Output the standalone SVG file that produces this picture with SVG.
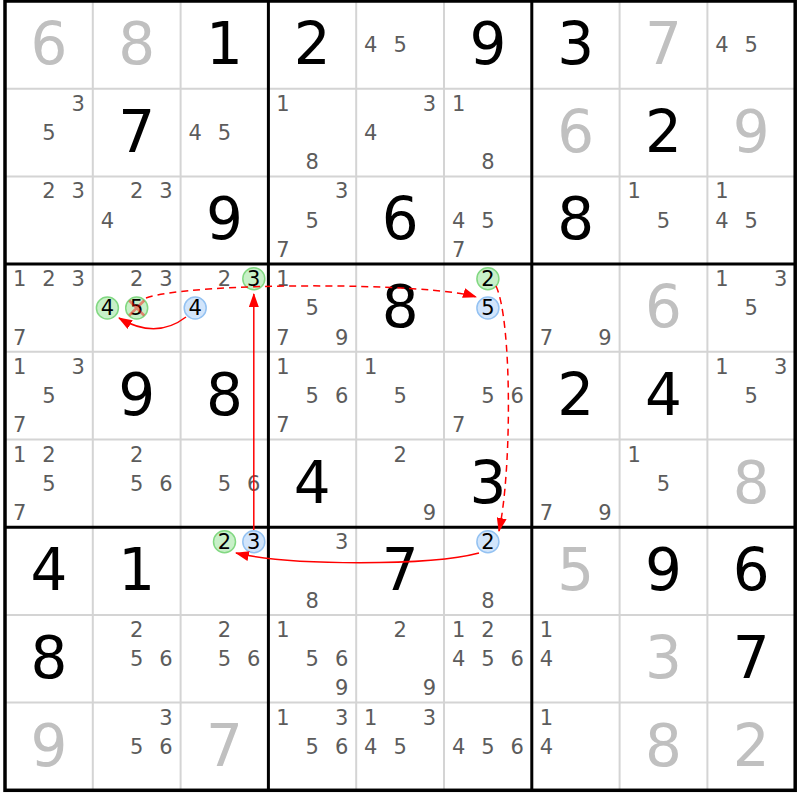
<svg xmlns="http://www.w3.org/2000/svg" width="800" height="800" viewBox="0 0 800 800">
<style>
text{font-family:"DejaVu Sans","Verdana",sans-serif;text-anchor:middle}
.b{font-size:58px;fill:#000}
.g{font-size:58px;fill:#c0c0c0}
.c{font-size:21px;fill:#5c5c5c}
.h{font-size:21px;fill:#000}
.cg{fill:#c8f0c8;stroke:#82d882;stroke-width:1.5}
.cb{fill:#d2e5fb;stroke:#94c2f2;stroke-width:1.5}
.thin{stroke:#d4d4d4;stroke-width:2}
.thick{stroke:#000;stroke-width:3}
.ar{fill:none;stroke:#f00;stroke-width:1.5}
.da{stroke-dasharray:7 5}
</style>
<defs>
<marker id="ah" markerWidth="14" markerHeight="10" refX="13" refY="5" orient="auto" markerUnits="userSpaceOnUse"><path d="M0,0 L14,5 L0,10 z" fill="#f00"/></marker>
</defs>
<rect width="800" height="800" fill="#fff"/>
<g id="grid">
<path class="thin" d="M92.8,1V790.3M180.6,1V790.3M356.2,1V790.3M444,1V790.3M619.6,1V790.3M707.4,1V790.3M5,88.7H795.2M5,176.4H795.2M5,351.8H795.2M5,439.5H795.2M5,614.9H795.2M5,702.6H795.2"/>
<path class="thick" d="M268.4,1V790.3M531.8,1V790.3M5,264.1H795.2M5,527.2H795.2"/>
<rect x="5" y="1" width="790.2" height="789.3" fill="none" stroke="#000" stroke-width="3.5"/>
</g>
<g id="cells">
<!-- row 0 -->
<g id="r0c0" transform="translate(5,1)"><text class="g" x="43.9" y="63">6</text></g>
<g id="r0c1" transform="translate(92.8,1)"><text class="g" x="43.9" y="63">8</text></g>
<g id="r0c2" transform="translate(180.6,1)"><text class="b" x="43.9" y="63">1</text></g>
<g id="r0c3" transform="translate(268.4,1)"><text class="b" x="43.9" y="63">2</text></g>
<g id="r0c4" transform="translate(356.2,1)"><text class="c" x="14.6" y="51.3">4</text><text class="c" x="43.9" y="51.3">5</text></g>
<g id="r0c5" transform="translate(444,1)"><text class="b" x="43.9" y="63">9</text></g>
<g id="r0c6" transform="translate(531.8,1)"><text class="b" x="43.9" y="63">3</text></g>
<g id="r0c7" transform="translate(619.6,1)"><text class="g" x="43.9" y="63">7</text></g>
<g id="r0c8" transform="translate(707.4,1)"><text class="c" x="14.6" y="51.3">4</text><text class="c" x="43.9" y="51.3">5</text></g>
<!-- row 1 -->
<g id="r1c0" transform="translate(5,88.7)"><text class="c" x="73.2" y="22">3</text><text class="c" x="43.9" y="51.3">5</text></g>
<g id="r1c1" transform="translate(92.8,88.7)"><text class="b" x="43.9" y="63">7</text></g>
<g id="r1c2" transform="translate(180.6,88.7)"><text class="c" x="14.6" y="51.3">4</text><text class="c" x="43.9" y="51.3">5</text></g>
<g id="r1c3" transform="translate(268.4,88.7)"><text class="c" x="14.6" y="22">1</text><text class="c" x="43.9" y="80.6">8</text></g>
<g id="r1c4" transform="translate(356.2,88.7)"><text class="c" x="73.2" y="22">3</text><text class="c" x="14.6" y="51.3">4</text></g>
<g id="r1c5" transform="translate(444,88.7)"><text class="c" x="14.6" y="22">1</text><text class="c" x="43.9" y="80.6">8</text></g>
<g id="r1c6" transform="translate(531.8,88.7)"><text class="g" x="43.9" y="63">6</text></g>
<g id="r1c7" transform="translate(619.6,88.7)"><text class="b" x="43.9" y="63">2</text></g>
<g id="r1c8" transform="translate(707.4,88.7)"><text class="g" x="43.9" y="63">9</text></g>
<!-- row 2 -->
<g id="r2c0" transform="translate(5,176.4)"><text class="c" x="43.9" y="22">2</text><text class="c" x="73.2" y="22">3</text></g>
<g id="r2c1" transform="translate(92.8,176.4)"><text class="c" x="43.9" y="22">2</text><text class="c" x="73.2" y="22">3</text><text class="c" x="14.6" y="51.3">4</text></g>
<g id="r2c2" transform="translate(180.6,176.4)"><text class="b" x="43.9" y="63">9</text></g>
<g id="r2c3" transform="translate(268.4,176.4)"><text class="c" x="73.2" y="22">3</text><text class="c" x="43.9" y="51.3">5</text><text class="c" x="14.6" y="80.6">7</text></g>
<g id="r2c4" transform="translate(356.2,176.4)"><text class="b" x="43.9" y="63">6</text></g>
<g id="r2c5" transform="translate(444,176.4)"><text class="c" x="14.6" y="51.3">4</text><text class="c" x="43.9" y="51.3">5</text><text class="c" x="14.6" y="80.6">7</text></g>
<g id="r2c6" transform="translate(531.8,176.4)"><text class="b" x="43.9" y="63">8</text></g>
<g id="r2c7" transform="translate(619.6,176.4)"><text class="c" x="14.6" y="22">1</text><text class="c" x="43.9" y="51.3">5</text></g>
<g id="r2c8" transform="translate(707.4,176.4)"><text class="c" x="14.6" y="22">1</text><text class="c" x="14.6" y="51.3">4</text><text class="c" x="43.9" y="51.3">5</text></g>
<!-- row 3 -->
<g id="r3c0" transform="translate(5,264.1)"><text class="c" x="14.6" y="22">1</text><text class="c" x="43.9" y="22">2</text><text class="c" x="73.2" y="22">3</text><text class="c" x="14.6" y="80.6">7</text></g>
<g id="r3c1" transform="translate(92.8,264.1)"><text class="c" x="43.9" y="22">2</text><text class="c" x="73.2" y="22">3</text><circle class="cg" cx="14.6" cy="43.9" r="11"/><text class="h" x="14.6" y="51.3">4</text><circle class="cg" cx="43.9" cy="43.9" r="11"/><text class="h" x="43.9" y="51.3">5</text><path d="M36.4,36.4L51.4,51.4M51.4,36.4L36.4,51.4" stroke="#ff0000" stroke-opacity="0.45" stroke-width="2.5"/></g>
<g id="r3c2" transform="translate(180.6,264.1)"><text class="c" x="43.9" y="22">2</text><circle class="cg" cx="73.2" cy="14.6" r="11"/><text class="h" x="73.2" y="22">3</text><circle class="cb" cx="14.6" cy="43.9" r="11"/><text class="h" x="14.6" y="51.3">4</text></g>
<g id="r3c3" transform="translate(268.4,264.1)"><text class="c" x="14.6" y="22">1</text><text class="c" x="43.9" y="51.3">5</text><text class="c" x="14.6" y="80.6">7</text><text class="c" x="73.2" y="80.6">9</text></g>
<g id="r3c4" transform="translate(356.2,264.1)"><text class="b" x="43.9" y="63">8</text></g>
<g id="r3c5" transform="translate(444,264.1)"><circle class="cg" cx="43.9" cy="14.6" r="11"/><text class="h" x="43.9" y="22">2</text><circle class="cb" cx="43.9" cy="43.9" r="11"/><text class="h" x="43.9" y="51.3">5</text></g>
<g id="r3c6" transform="translate(531.8,264.1)"><text class="c" x="14.6" y="80.6">7</text><text class="c" x="73.2" y="80.6">9</text></g>
<g id="r3c7" transform="translate(619.6,264.1)"><text class="g" x="43.9" y="63">6</text></g>
<g id="r3c8" transform="translate(707.4,264.1)"><text class="c" x="14.6" y="22">1</text><text class="c" x="73.2" y="22">3</text><text class="c" x="43.9" y="51.3">5</text></g>
<!-- row 4 -->
<g id="r4c0" transform="translate(5,351.8)"><text class="c" x="14.6" y="22">1</text><text class="c" x="73.2" y="22">3</text><text class="c" x="43.9" y="51.3">5</text><text class="c" x="14.6" y="80.6">7</text></g>
<g id="r4c1" transform="translate(92.8,351.8)"><text class="b" x="43.9" y="63">9</text></g>
<g id="r4c2" transform="translate(180.6,351.8)"><text class="b" x="43.9" y="63">8</text></g>
<g id="r4c3" transform="translate(268.4,351.8)"><text class="c" x="14.6" y="22">1</text><text class="c" x="43.9" y="51.3">5</text><text class="c" x="73.2" y="51.3">6</text><text class="c" x="14.6" y="80.6">7</text></g>
<g id="r4c4" transform="translate(356.2,351.8)"><text class="c" x="14.6" y="22">1</text><text class="c" x="43.9" y="51.3">5</text></g>
<g id="r4c5" transform="translate(444,351.8)"><text class="c" x="43.9" y="51.3">5</text><text class="c" x="73.2" y="51.3">6</text><text class="c" x="14.6" y="80.6">7</text></g>
<g id="r4c6" transform="translate(531.8,351.8)"><text class="b" x="43.9" y="63">2</text></g>
<g id="r4c7" transform="translate(619.6,351.8)"><text class="b" x="43.9" y="63">4</text></g>
<g id="r4c8" transform="translate(707.4,351.8)"><text class="c" x="14.6" y="22">1</text><text class="c" x="73.2" y="22">3</text><text class="c" x="43.9" y="51.3">5</text></g>
<!-- row 5 -->
<g id="r5c0" transform="translate(5,439.5)"><text class="c" x="14.6" y="22">1</text><text class="c" x="43.9" y="22">2</text><text class="c" x="43.9" y="51.3">5</text><text class="c" x="14.6" y="80.6">7</text></g>
<g id="r5c1" transform="translate(92.8,439.5)"><text class="c" x="43.9" y="22">2</text><text class="c" x="43.9" y="51.3">5</text><text class="c" x="73.2" y="51.3">6</text></g>
<g id="r5c2" transform="translate(180.6,439.5)"><text class="c" x="43.9" y="51.3">5</text><text class="c" x="73.2" y="51.3">6</text></g>
<g id="r5c3" transform="translate(268.4,439.5)"><text class="b" x="43.9" y="63">4</text></g>
<g id="r5c4" transform="translate(356.2,439.5)"><text class="c" x="43.9" y="22">2</text><text class="c" x="73.2" y="80.6">9</text></g>
<g id="r5c5" transform="translate(444,439.5)"><text class="b" x="43.9" y="63">3</text></g>
<g id="r5c6" transform="translate(531.8,439.5)"><text class="c" x="14.6" y="80.6">7</text><text class="c" x="73.2" y="80.6">9</text></g>
<g id="r5c7" transform="translate(619.6,439.5)"><text class="c" x="14.6" y="22">1</text><text class="c" x="43.9" y="51.3">5</text></g>
<g id="r5c8" transform="translate(707.4,439.5)"><text class="g" x="43.9" y="63">8</text></g>
<!-- row 6 -->
<g id="r6c0" transform="translate(5,527.2)"><text class="b" x="43.9" y="63">4</text></g>
<g id="r6c1" transform="translate(92.8,527.2)"><text class="b" x="43.9" y="63">1</text></g>
<g id="r6c2" transform="translate(180.6,527.2)"><circle class="cg" cx="43.9" cy="14.6" r="11"/><text class="h" x="43.9" y="22">2</text><circle class="cb" cx="73.2" cy="14.6" r="11"/><text class="h" x="73.2" y="22">3</text></g>
<g id="r6c3" transform="translate(268.4,527.2)"><text class="c" x="73.2" y="22">3</text><text class="c" x="43.9" y="80.6">8</text></g>
<g id="r6c4" transform="translate(356.2,527.2)"><text class="b" x="43.9" y="63">7</text></g>
<g id="r6c5" transform="translate(444,527.2)"><circle class="cb" cx="43.9" cy="14.6" r="11"/><text class="h" x="43.9" y="22">2</text><text class="c" x="43.9" y="80.6">8</text></g>
<g id="r6c6" transform="translate(531.8,527.2)"><text class="g" x="43.9" y="63">5</text></g>
<g id="r6c7" transform="translate(619.6,527.2)"><text class="b" x="43.9" y="63">9</text></g>
<g id="r6c8" transform="translate(707.4,527.2)"><text class="b" x="43.9" y="63">6</text></g>
<!-- row 7 -->
<g id="r7c0" transform="translate(5,614.9)"><text class="b" x="43.9" y="63">8</text></g>
<g id="r7c1" transform="translate(92.8,614.9)"><text class="c" x="43.9" y="22">2</text><text class="c" x="43.9" y="51.3">5</text><text class="c" x="73.2" y="51.3">6</text></g>
<g id="r7c2" transform="translate(180.6,614.9)"><text class="c" x="43.9" y="22">2</text><text class="c" x="43.9" y="51.3">5</text><text class="c" x="73.2" y="51.3">6</text></g>
<g id="r7c3" transform="translate(268.4,614.9)"><text class="c" x="14.6" y="22">1</text><text class="c" x="43.9" y="51.3">5</text><text class="c" x="73.2" y="51.3">6</text><text class="c" x="73.2" y="80.6">9</text></g>
<g id="r7c4" transform="translate(356.2,614.9)"><text class="c" x="43.9" y="22">2</text><text class="c" x="73.2" y="80.6">9</text></g>
<g id="r7c5" transform="translate(444,614.9)"><text class="c" x="14.6" y="22">1</text><text class="c" x="43.9" y="22">2</text><text class="c" x="14.6" y="51.3">4</text><text class="c" x="43.9" y="51.3">5</text><text class="c" x="73.2" y="51.3">6</text></g>
<g id="r7c6" transform="translate(531.8,614.9)"><text class="c" x="14.6" y="22">1</text><text class="c" x="14.6" y="51.3">4</text></g>
<g id="r7c7" transform="translate(619.6,614.9)"><text class="g" x="43.9" y="63">3</text></g>
<g id="r7c8" transform="translate(707.4,614.9)"><text class="b" x="43.9" y="63">7</text></g>
<!-- row 8 -->
<g id="r8c0" transform="translate(5,702.6)"><text class="g" x="43.9" y="63">9</text></g>
<g id="r8c1" transform="translate(92.8,702.6)"><text class="c" x="73.2" y="22">3</text><text class="c" x="43.9" y="51.3">5</text><text class="c" x="73.2" y="51.3">6</text></g>
<g id="r8c2" transform="translate(180.6,702.6)"><text class="g" x="43.9" y="63">7</text></g>
<g id="r8c3" transform="translate(268.4,702.6)"><text class="c" x="14.6" y="22">1</text><text class="c" x="73.2" y="22">3</text><text class="c" x="43.9" y="51.3">5</text><text class="c" x="73.2" y="51.3">6</text></g>
<g id="r8c4" transform="translate(356.2,702.6)"><text class="c" x="14.6" y="22">1</text><text class="c" x="73.2" y="22">3</text><text class="c" x="14.6" y="51.3">4</text><text class="c" x="43.9" y="51.3">5</text></g>
<g id="r8c5" transform="translate(444,702.6)"><text class="c" x="14.6" y="51.3">4</text><text class="c" x="43.9" y="51.3">5</text><text class="c" x="73.2" y="51.3">6</text></g>
<g id="r8c6" transform="translate(531.8,702.6)"><text class="c" x="14.6" y="22">1</text><text class="c" x="14.6" y="51.3">4</text></g>
<g id="r8c7" transform="translate(619.6,702.6)"><text class="g" x="43.9" y="63">8</text></g>
<g id="r8c8" transform="translate(707.4,702.6)"><text class="g" x="43.9" y="63">2</text></g>
</g>
<g id="connectors">
<path class="ar da" d="M146,298 C190,282 430,282 476,297" marker-end="url(#ah)"/>
<path class="ar da" d="M496,286 C512,320 512,470 499,531" marker-end="url(#ah)"/>
<path class="ar" d="M186,317 Q156,340 119,318" marker-end="url(#ah)"/>
<path class="ar" d="M253.8,530 L253.8,294" marker-end="url(#ah)"/>
<path class="ar" d="M479,553 C430,566 290,566 236,553" marker-end="url(#ah)"/>
</g>
</svg>
